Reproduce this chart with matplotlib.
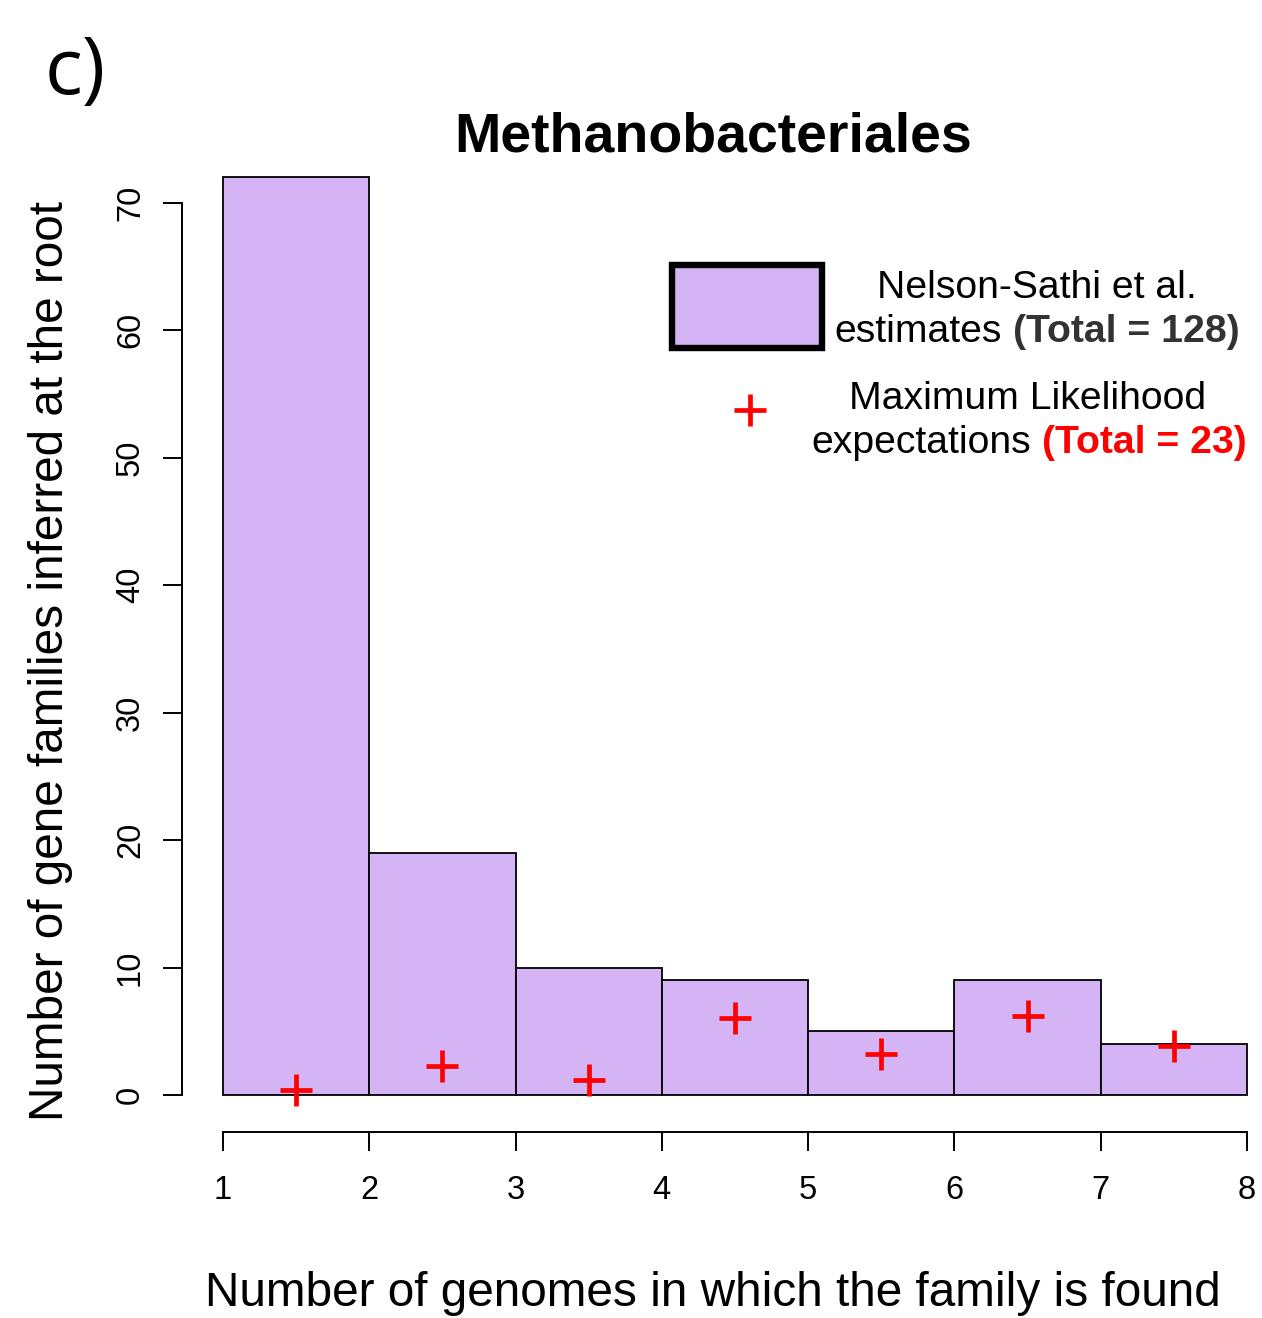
import numpy as np
import matplotlib.pyplot as plt
from matplotlib.patches import Rectangle
from matplotlib.lines import Line2D

plt.rcParams['font.family'] = ['Liberation Sans', 'DejaVu Sans']

# data
genomes = [1, 2, 3, 4, 5, 6, 7]          # left edge of each bin
nelson_sathi = [72, 19, 10, 9, 5, 9, 4]   # total = 128
ml_expect = [0.36, 2.25, 1.14, 6.02, 3.18, 6.2, 3.82]  # total ~ 23
x_ticks = [1, 2, 3, 4, 5, 6, 7, 8]
y_ticks = [0, 10, 20, 30, 40, 50, 60, 70]

BAR_COL = '#D4B4F5'
W, H = 1262, 1318

fig = plt.figure(figsize=(W / 100, H / 100), dpi=100)
ax = fig.add_axes([182 / W, 1 - 1131.7 / H, 1106 / W, 991.2 / H])

ax.bar(genomes, nelson_sathi, width=1, align='edge', color=BAR_COL,
       edgecolor='black', linewidth=1.3)
mids = np.array(genomes) + 0.5
ax.plot(mids, ml_expect, linestyle='none', marker='+', color='red',
        markersize=23, markeredgewidth=3.4, clip_on=False)

ax.set_xlim(0.72, 8.28)
ax.set_ylim(-2.88, 74.88)
ax.set_xticks(x_ticks)
ax.set_yticks(y_ticks)
ax.set_xticklabels([str(v) for v in x_ticks])
ax.set_yticklabels([str(v) for v in y_ticks])

for s in ['top', 'right']:
    ax.spines[s].set_visible(False)
ax.spines['left'].set_bounds(0, 70)
ax.spines['bottom'].set_bounds(1, 8)
for s in ['left', 'bottom']:
    ax.spines[s].set_linewidth(1.4)
ax.tick_params(axis='both', direction='out', length=14, width=1.4,
               labelsize=23.5)
ax.tick_params(axis='x', pad=17)
ax.tick_params(axis='y', pad=12, labelrotation=90)
for lab in ax.get_yticklabels():
    lab.set_va('center')

# labels and title
fig.text(713.5 / W, 1 - 152 / H, 'Methanobacteriales', ha='center',
         va='baseline', fontsize=40, fontweight='bold')
fig.text(713 / W, 1 - 1306 / H, 'Number of genomes in which the family is found',
         ha='center', va='baseline', fontsize=34.4)
fig.text(63 / W, 1 - 661 / H, 'Number of gene families inferred at the root',
         ha='center', va='baseline', rotation=90, rotation_mode='anchor',
         fontsize=34.4)
fig.text(45 / W, 1 - 94 / H, 'c)', ha='left', va='baseline', fontsize=57,
         family='Open Sans')

# legend, drawn by hand
fig.add_artist(Rectangle((672 / W, 1 - 348 / H), 150 / W, 83 / H,
                         transform=fig.transFigure, facecolor=BAR_COL,
                         edgecolor='black', linewidth=4.6))
fig.add_artist(Line2D([750 / W], [1 - 410 / H], transform=fig.transFigure,
                      marker='+', color='red', markersize=23,
                      markeredgewidth=3.4, linestyle='none'))

renderer = fig.canvas.get_renderer()
LEG_FS = 28.2
gap = 0.278 * LEG_FS * 100 / 72


def mixed_line(parts, xc, yb):
    texts = [fig.text(0, 1 - yb / H, s, va='baseline', ha='left',
                      fontsize=LEG_FS, **p) for s, p in parts]
    widths = [t.get_window_extent(renderer).width for t in texts]
    total = sum(widths) + gap * (len(texts) - 1)
    x = xc - total / 2
    for t, w in zip(texts, widths):
        t.set_x(x / W)
        x += w + gap


mixed_line([('Nelson-Sathi et al.', {})], 1037, 298)
mixed_line([('estimates', {}),
            ('(Total = 128)', {'fontweight': 'bold', 'color': '#333333'})],
           1037, 342)
mixed_line([('Maximum Likelihood', {})], 1028, 409)
mixed_line([('expectations', {}),
            ('(Total = 23)', {'fontweight': 'bold', 'color': 'red'})],
           1029, 453)

fig.savefig('out.png', dpi=100)
